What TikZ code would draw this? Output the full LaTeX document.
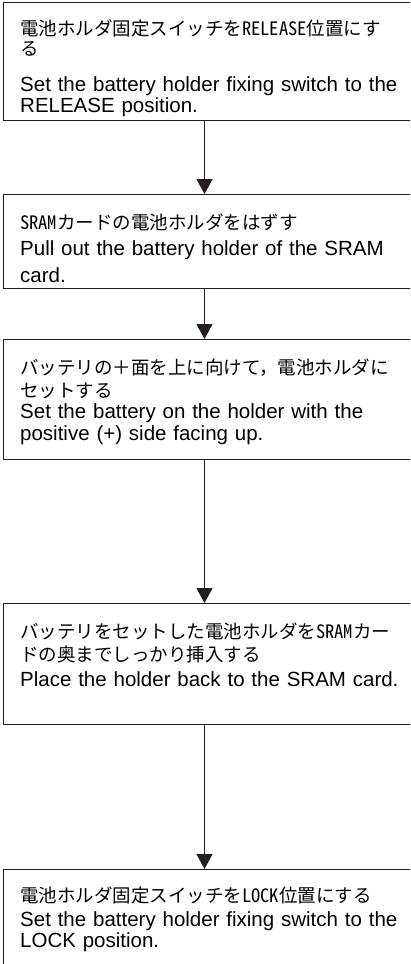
\documentclass[tikz,border=0pt]{standalone}
\usepackage{fontspec}
\setmainfont{Liberation Sans}
\newfontfamily\jpfont{Noto Sans CJK JP}
\newfontfamily\jphalf{Noto Sans CJK JP}[RawFeature=+hwid]
\usetikzlibrary{arrows.meta, positioning, calc}
\definecolor{inkline}{HTML}{231F20}
\newcommand{\jp}[1]{{\jpfont\fontsize{18.5}{20}\selectfont #1}}
\newcommand{\hw}[1]{{\jphalf #1}}
\newcommand{\topstrut}{\rule{0pt}{20pt}}

\begin{document}
\begin{tikzpicture}[x=1pt, y=1pt,
    stepbox/.style={draw=inkline, line width=1.4pt, anchor=north west,
      minimum width=414pt, inner sep=0pt},
    steptext/.style={anchor=north west, inner sep=0pt, align=left,
      text width=400pt, text=black, font=\fontsize{20.5}{20}\selectfont},
    flow/.style={draw=inkline, line width=1.4pt,
      -{Triangle[width=16pt, length=15pt]}}]
    \useasboundingbox (0,0) rectangle (410,-964);
    \clip (0,0) rectangle (410,-964);
    \fill[white] (0,0) rectangle (410,-964);
    % the five steps
    \node[stepbox, minimum height=118pt] (s1) at (3,-2) {};
    \node[stepbox, minimum height=94pt]  (s2) at (3,-194) {};
    \node[stepbox, minimum height=120pt] (s3) at (3,-339) {};
    \node[stepbox, minimum height=121pt] (s4) at (3,-603) {};
    \node[stepbox, minimum height=110pt] (s5) at (3,-869) {};
    \node[steptext] (t1) at ([shift={(17,-13)}]s1.north west)
      {\topstrut\jp{電池ホルダ固定スイッチを\hw{RELEASE}位置にす}\\
       \jp{る}\\[16pt]
       Set the battery holder fixing switch to the\\[1pt]
       RELEASE position.};
    \node[steptext] (t2) at ([shift={(17,-15)}]s2.north west)
      {\topstrut\jp{\hw{SRAM}カードの電池ホルダをはずす}\\[6pt]
       Pull out the battery holder of the SRAM\\[7pt]
       card.};
    \node[steptext] (t3) at ([shift={(17,-15)}]s3.north west)
      {\topstrut\jp{バッテリの＋面を上に向けて，電池ホルダに}\\[3pt]
       \jp{セットする}\\[1pt]
       Set the battery on the holder with the\\[2pt]
       positive (+) side facing up.};
    \node[steptext] (t4) at ([shift={(17,-15)}]s4.north west)
      {\topstrut\jp{バッテリをセットした電池ホルダを\hw{SRAM}カー}\\[3pt]
       \jp{ドの奥までしっかり挿入する}\\[5pt]
       Place the holder back to the SRAM card.};
    \node[steptext] (t5) at ([shift={(17,-13)}]s5.north west)
      {\topstrut\jp{電池ホルダ固定スイッチを\hw{LOCK}位置にする}\\[4pt]
       Set the battery holder fixing switch to the\\[1pt]
       LOCK position.};
    % connectors
    \coordinate (spine) at (204.5,0);
    \foreach \a/\b in {s1/s2, s2/s3, s3/s4, s4/s5}
      \draw[flow] (\a.south -| spine) -- (\b.north -| spine);
\end{tikzpicture}
\end{document}
